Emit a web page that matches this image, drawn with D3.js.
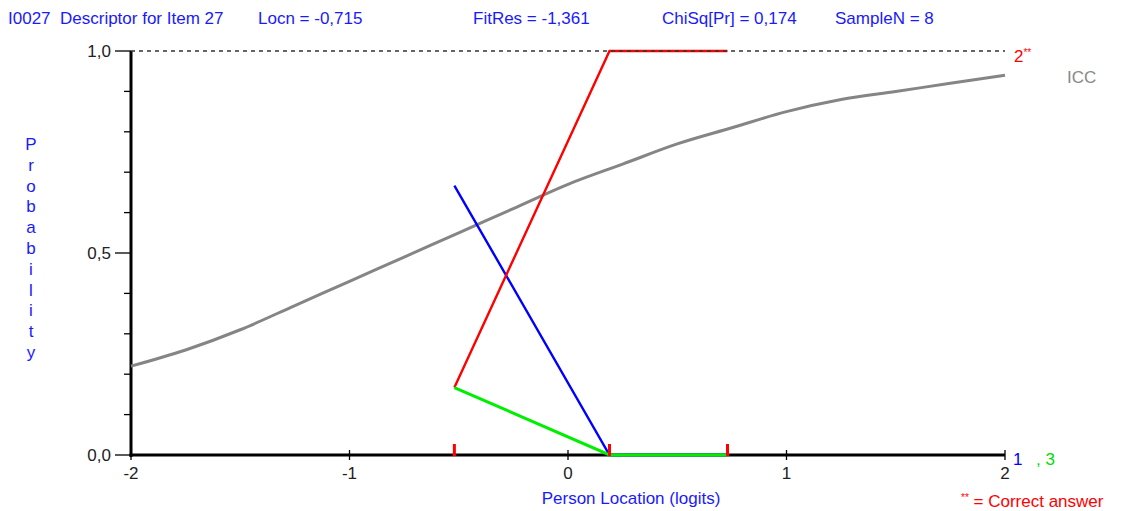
<!DOCTYPE html>
<html>
<head>
<meta charset="utf-8">
<script src="https://cdn.jsdelivr.net/npm/d3@7"></script>
<style>
  body { margin: 0; background: #fff; }
  svg { display: block; font-family: "Liberation Sans", Arial, sans-serif; }
  text { white-space: pre; }
</style>
</head>
<body>
<div id="chart"></div>
<script>
// header values
var headerItems = ["I0027  Descriptor for Item 27", "Locn = -0,715", "FitRes = -1,361", "ChiSq[Pr] = 0,174", "SampleN = 8"];

// class interval means (logits) and observed proportions per category
var classMeans = [-0.52, 0.19, 0.73];
var cat1 = [0.667, 0.0, 0.0];   // blue
var cat2 = [0.167, 1.0, 1.0];   // red, correct answer
var cat3 = [0.167, 0.0, 0.0];   // green

// ICC
var iccX = [-2, -1.75, -1.5, -1.25, -1, -0.75, -0.5, -0.25, 0, 0.25, 0.5, 0.75, 1, 1.25, 1.5, 1.75, 2];
var iccY = [0.22, 0.26, 0.31, 0.37, 0.43, 0.49, 0.55, 0.61, 0.67, 0.72, 0.77, 0.81, 0.85, 0.88, 0.90, 0.92, 0.94];

var xTicks = [-2, -1, 0, 1, 2];
var yMajor = [0, 0.5, 1];
var yMinor = [0.1, 0.2, 0.3, 0.4, 0.6, 0.7, 0.8, 0.9];

var width = 1129, height = 511;
var fs = "17px";
var svg = d3.select("#chart").append("svg")
    .attr("width", width)
    .attr("height", height);

var x = d3.scaleLinear().domain([-2, 2]).range([131, 1005]);
var y = d3.scaleLinear().domain([0, 1]).range([455, 51]);

// header
var headerX = [8, 258, 473, 662, 835];
svg.selectAll(".hdr")
    .data(headerItems)
    .enter().append("text")
    .attr("class", "hdr")
    .attr("x", function (d, i) { return headerX[i]; })
    .attr("y", 24)
    .attr("fill", "#1a1aff")
    .style("font-size", fs)
    .text(function (d) { return d; });

// y axis
svg.append("line")
    .attr("x1", x(-2)).attr("x2", x(-2))
    .attr("y1", y(1)).attr("y2", y(0) + 2)
    .attr("stroke", "#000").attr("stroke-width", 3);
svg.selectAll(".ymaj")
    .data(yMajor).enter().append("line")
    .attr("x1", 115).attr("x2", x(-2))
    .attr("y1", function (d) { return y(d); })
    .attr("y2", function (d) { return y(d); })
    .attr("stroke", "#000").attr("stroke-width", 1.3);
svg.selectAll(".ymin")
    .data(yMinor).enter().append("line")
    .attr("x1", 124).attr("x2", x(-2))
    .attr("y1", function (d) { return y(d); })
    .attr("y2", function (d) { return y(d); })
    .attr("stroke", "#000").attr("stroke-width", 1.3);
svg.selectAll(".ylab")
    .data(yMajor).enter().append("text")
    .attr("x", 111)
    .attr("y", function (d) { return y(d) + 6; })
    .attr("text-anchor", "end")
    .attr("fill", "#222")
    .style("font-size", fs)
    .text(function (d) { return d3.format(".1f")(d).replace(".", ","); });

// y title, stacked letters
var yTitle = "Probability".split("");
svg.selectAll(".ytitle")
    .data(yTitle).enter().append("text")
    .attr("x", 31)
    .attr("y", function (d, i) { return 150 + i * 20.8; })
    .attr("text-anchor", "middle")
    .attr("fill", "#1a1aff")
    .style("font-size", fs)
    .text(function (d) { return d; });

// x axis
svg.append("line")
    .attr("x1", x(-2) - 1.5).attr("x2", x(2))
    .attr("y1", y(0)).attr("y2", y(0))
    .attr("stroke", "#000").attr("stroke-width", 3);
svg.selectAll(".xt")
    .data(xTicks).enter().append("line")
    .attr("x1", function (d) { return x(d); })
    .attr("x2", function (d) { return x(d); })
    .attr("y1", function (d) { return d === -2 ? y(0) : y(0) - 5; })
    .attr("y2", y(0) + 5)
    .attr("stroke", "#000").attr("stroke-width", 1.3);
svg.selectAll(".xlab")
    .data(xTicks).enter().append("text")
    .attr("x", function (d) { return x(d); })
    .attr("y", 479)
    .attr("text-anchor", "middle")
    .attr("fill", "#222")
    .style("font-size", fs)
    .text(function (d) { return d; });

// ICC
var line = d3.line().curve(d3.curveMonotoneX);
svg.append("path")
    .attr("d", line(iccX.map(function (d, i) { return [x(d), y(iccY[i])]; })))
    .attr("fill", "none")
    .attr("stroke", "#858585")
    .attr("stroke-width", 3);

var straight = d3.line();
function drawCat(vals, color, w) {
    svg.append("path")
        .attr("d", straight(classMeans.map(function (d, i) { return [x(d), y(vals[i])]; })))
        .attr("fill", "none")
        .attr("stroke", color)
        .attr("stroke-width", w);
}
drawCat(cat1, "#0000ff", 2.4);
drawCat(cat2, "#ff0000", 2.4);
drawCat(cat3, "#00ee00", 3);

// dashed line at 1.0
svg.append("line")
    .attr("x1", x(-2)).attr("x2", x(2))
    .attr("y1", y(1)).attr("y2", y(1))
    .attr("stroke", "#333")
    .attr("stroke-width", 1.3)
    .attr("stroke-dasharray", "4,4");

// class interval markers
svg.selectAll(".ci")
    .data(classMeans).enter().append("line")
    .attr("x1", function (d) { return x(d); })
    .attr("x2", function (d) { return x(d); })
    .attr("y1", y(0) - 11).attr("y2", y(0) + 1)
    .attr("stroke", "#ff0000").attr("stroke-width", 3);

svg.append("text")
    .attr("x", 631).attr("y", 504)
    .attr("text-anchor", "middle")
    .attr("fill", "#1a1aff")
    .style("font-size", fs)
    .text("Person Location (logits)");

// right-side labels
var r = svg.append("text").attr("x", 1014).attr("y", 62)
    .attr("fill", "#ff0000").style("font-size", fs);
r.append("tspan").text("2");
r.append("tspan").attr("dy", -6).style("font-size", "10px").text("**");

svg.append("text").attr("x", 1067).attr("y", 83)
    .attr("fill", "#888").style("font-size", fs).text("ICC");

svg.append("text").attr("x", 1013).attr("y", 465)
    .attr("fill", "#0000ff").style("font-size", fs).text("1");
svg.append("text").attr("x", 1036).attr("y", 465)
    .attr("fill", "#00dd00").style("font-size", fs).text(", 3");

var ca = svg.append("text").attr("x", 961).attr("y", 507)
    .attr("fill", "#ff0000").style("font-size", fs);
ca.append("tspan").attr("dy", -6).style("font-size", "10px").text("**");
ca.append("tspan").attr("dy", 6).text(" = Correct answer");
</script>
</body>
</html>
